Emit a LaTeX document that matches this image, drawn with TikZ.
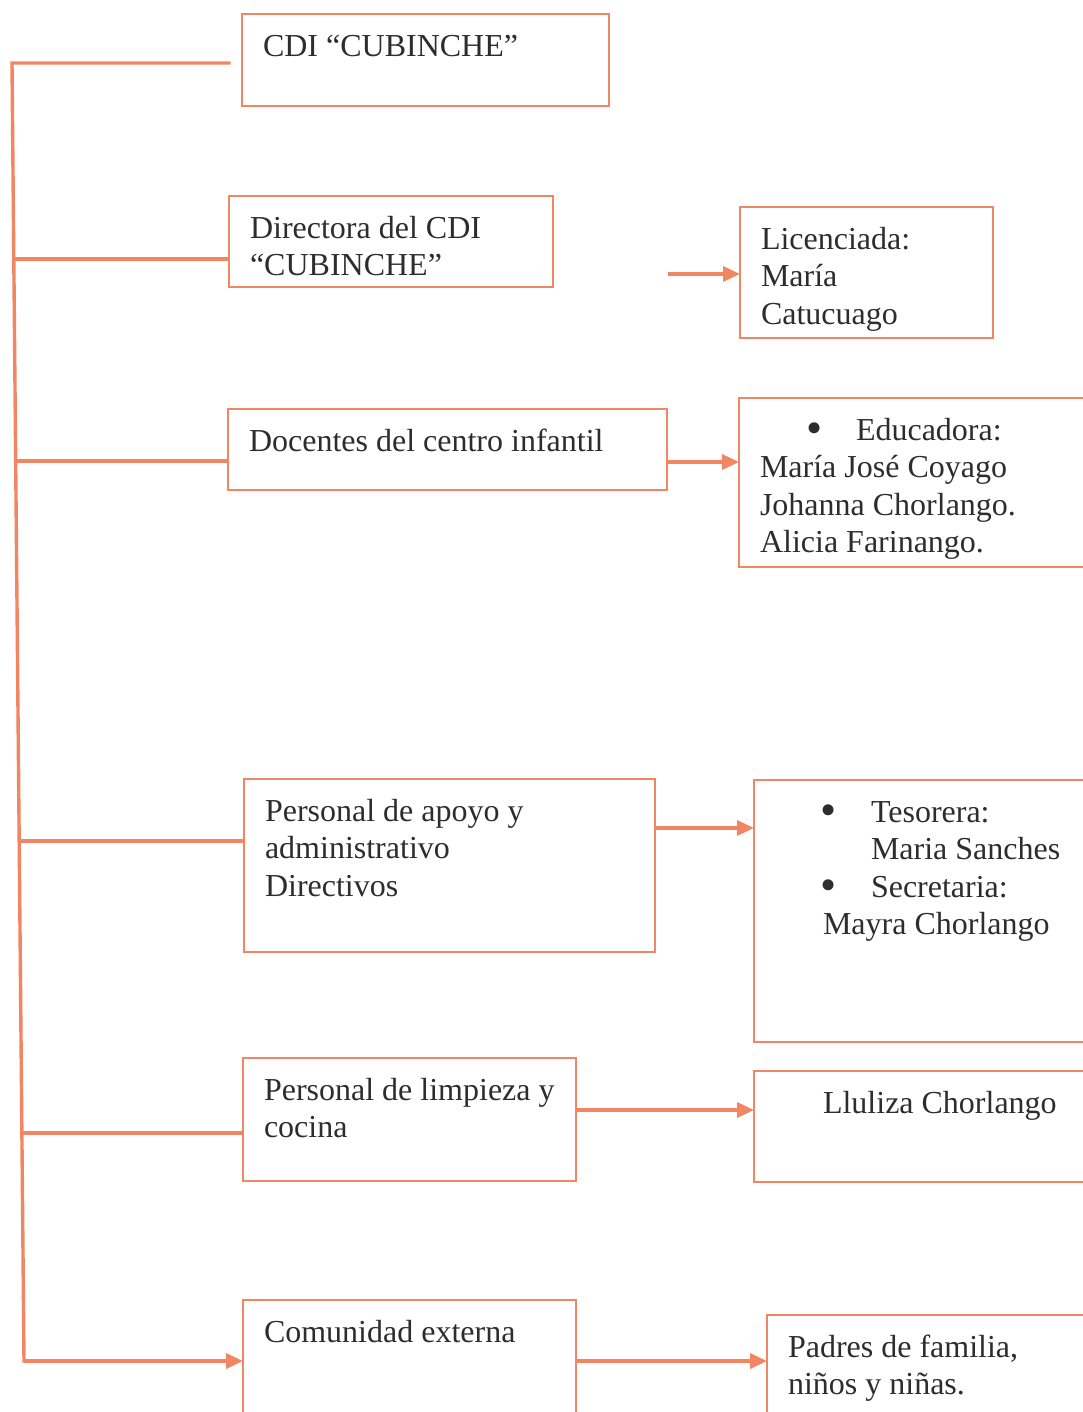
\documentclass[tikz,border=0pt]{standalone}
\usepackage{fontspec}
\setmainfont{Liberation Serif}
\usetikzlibrary{arrows.meta}
\definecolor{naranja}{RGB}{243,134,98}
\definecolor{tinta}{RGB}{45,45,45}
\newcommand{\renglones}[3]{\parbox[t][#2][t]{#1}{\begin{tabular}[t]{@{}l@{}}#3\end{tabular}}}
\newcommand{\vineta}{\raisebox{-3pt}{\fontsize{46}{37.5}\selectfont •}}

\begin{document}
\begin{tikzpicture}[x=1pt,y=-1pt,
  caja/.style={draw=naranja,line width=2.8pt,anchor=north west,outer sep=0pt,
    inner xsep=21pt,inner ysep=16pt,text=tinta,font=\fontsize{32}{37.5}\selectfont},
  linea/.style={draw=naranja,line width=3.4pt},
  flecha/.style={linea,-{Triangle[length=17pt,width=15pt]}}]
 \useasboundingbox (0,0) rectangle (1083,1412);
 \clip (0,0) rectangle (1083,1412);

 \node[caja] (cdi) at (242,14) {\renglones{325pt}{60pt}{CDI “CUBINCHE”}};
 \node[caja] (dir) at (229,196) {\renglones{282pt}{59pt}{Directora del CDI\\“CUBINCHE”}};
 \node[caja] (lic) at (740,207) {\renglones{211pt}{99pt}{Licenciada:\\María\\Catucuago}};
 \node[caja] (doc) at (228,409) {\renglones{397pt}{49pt}{Docentes del centro infantil}};
 \node[caja] (edu) at (739,398) {\renglones{318pt}{137pt}{%
   \hspace*{46pt}\makebox[50pt][l]{\vineta}Educadora:\\María José Coyago\\
   Johanna Chorlango.\\Alicia Farinango.}};
 \node[caja] (apo) at (244,779) {\renglones{369pt}{141pt}{Personal de apoyo y\\administrativo\\Directivos}};
 \node[caja] (adm) at (754,780) {\renglones{303pt}{230pt}{%
   \hspace*{45pt}\makebox[51pt][l]{\vineta}Tesorera:\\\hspace*{96pt}Maria Sanches\\
   \hspace*{45pt}\makebox[51pt][l]{\vineta}Secretaria:\\\hspace*{48pt}Mayra Chorlango}};
 \node[caja] (lim) at (243,1058) {\renglones{291pt}{91pt}{Personal de limpieza y\\cocina}};
 \node[caja] (llu) at (754,1071) {\renglones{303pt}{79pt}{\hspace*{48pt}Lluliza Chorlango}};
 \node[caja] (com) at (243,1300) {\renglones{291pt}{118pt}{Comunidad externa}};
 \node[caja] (pad) at (767,1315) {\renglones{288pt}{108pt}{Padres de familia,\\niños y niñas.}};

 \coordinate (raiz) at (12,63);
 \coordinate (pie) at (24,1361);
 \coordinate (cdi_fin) at (229,63);
 \coordinate (r_dir) at (13.8,259);
 \coordinate (r_doc) at (15.7,461);
 \coordinate (r_apo) at (19.2,841);
 \coordinate (r_lim) at (21.9,1133);
 \coordinate (dir_sale) at (668,274);

 \draw[linea,line cap=rect] (cdi_fin) -- (raiz) -- (pie);
 \draw[linea] (r_dir) -- (r_dir -| dir.west);
 \draw[linea] (r_doc) -- (r_doc -| doc.west);
 \draw[linea] (r_apo) -- (r_apo -| apo.west);
 \draw[linea] (r_lim) -- (r_lim -| lim.west);
 \draw[flecha] (pie) -- (pie -| com.west);

 \draw[flecha] (dir_sale) -- (dir_sale -| lic.west);
 \draw[flecha] ([yshift=-12.5pt]doc.east) -- ([yshift=-12.5pt]doc.east -| edu.west);
 \draw[flecha] ([yshift=37.5pt]apo.east) -- ([yshift=37.5pt]apo.east -| adm.west);
 \draw[flecha] ([yshift=9.5pt]lim.east) -- ([yshift=9.5pt]lim.east -| llu.west);
 \draw[flecha] ([yshift=-61pt]com.north east) -- ([yshift=-61pt]com.north east -| pad.west);
\end{tikzpicture}
\end{document}
